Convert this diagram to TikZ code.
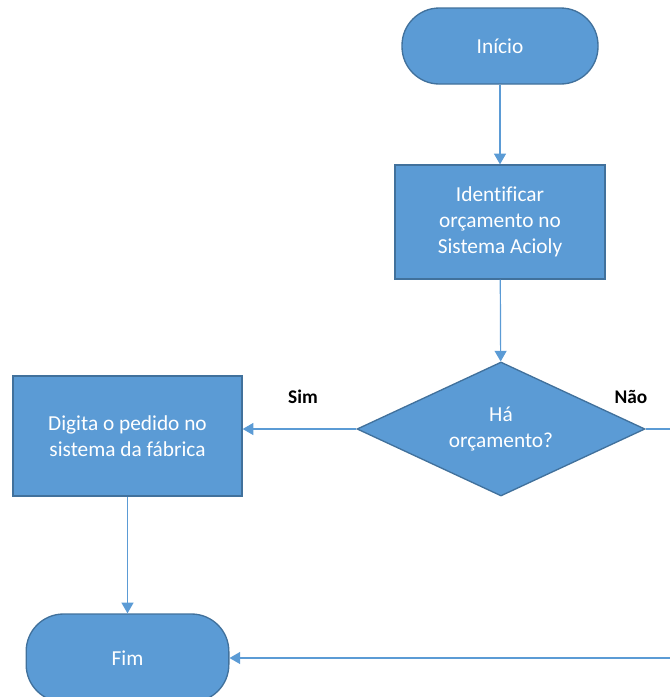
\documentclass[tikz,border=0pt]{standalone}
\usepackage{fontspec}
\setmainfont{Carlito}[Ligatures=CommonOff]
\usetikzlibrary{shapes.geometric,arrows.meta}
\definecolor{boxfill}{HTML}{5B9BD5}
\definecolor{boxline}{HTML}{41719C}
\definecolor{conn}{HTML}{5B9BD5}
\tikzset{
  base/.style={draw=boxline, fill=boxfill, line width=1pt, text=white, align=center, inner sep=0pt,
    font=\fontsize{16pt}{19.5pt}\selectfont},
  term/.style={base, rectangle, rounded corners=28pt},
  procbox/.style={base, rectangle},
  decbox/.style={base, diamond, aspect=2},
  conn/.style={draw=conn, line width=0.9pt, -{Triangle[width=9pt,length=8pt]}},
  plain/.style={draw=conn, line width=0.9pt},
  lbl/.style={font=\fontsize{14.5pt}{16pt}\selectfont\bfseries, text=black}
}
\begin{document}
\begin{tikzpicture}[x=0.75pt, y=-0.75pt]
\useasboundingbox (0,0) rectangle (670,697);
\node[term, minimum width=147pt, minimum height=57pt] (inicio) at (500,46) {Início};
\node[procbox, minimum width=157.5pt, minimum height=85.5pt] (ident) at (500,222) {Identificar\\orçamento no\\Sistema Acioly};
\node[decbox, minimum width=216pt, minimum height=100.5pt] (dec) at (501,429) {Há\\orçamento?};
\node[procbox, minimum width=171.75pt, minimum height=90pt] (digita) at (127.5,436) {Digita o pedido no\\sistema da fábrica};
\node[term, minimum width=152pt, minimum height=66pt] (fim) at (127.5,658) {Fim};
\node[lbl] (sim) at (303,397) {Sim};
\node[lbl] (nao) at (631,397) {Não};
\coordinate (r1) at (670,429);
\coordinate (r2) at (670,658);
\draw[conn] (inicio) -- (ident);
\draw[conn] (ident) -- (dec);
\draw[conn] (dec.west) -- (dec.west -| digita.east);
\draw[conn] (digita) -- (fim);
\draw[plain] (dec.east) -- (r1);
\draw[conn] (r2) -- (fim.east);
\end{tikzpicture}
\end{document}
